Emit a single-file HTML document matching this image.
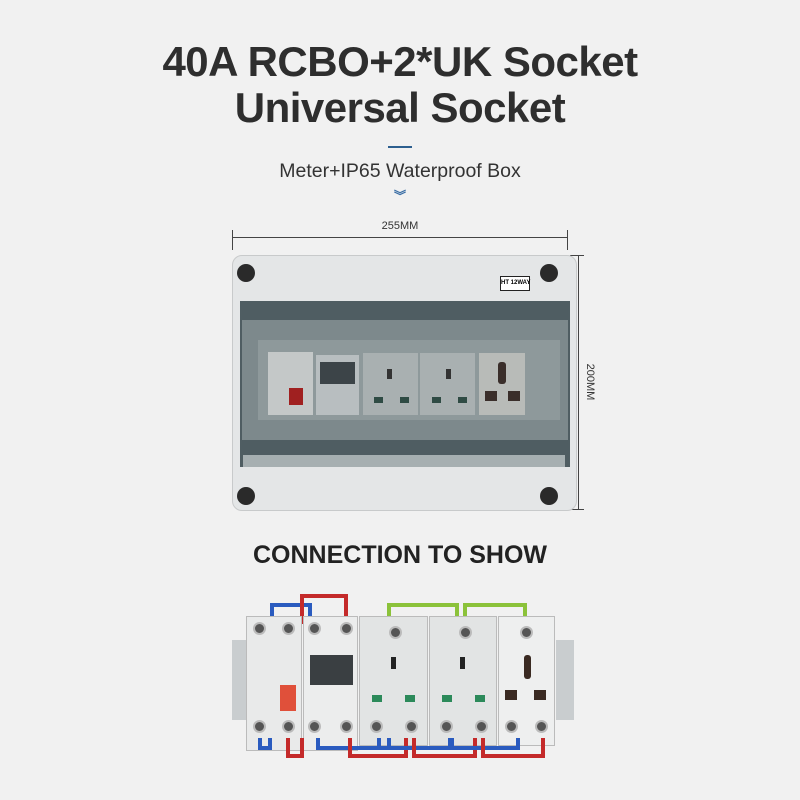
<!DOCTYPE html>
<html><head><style>
body{margin:0;width:800px;height:800px;background:#f1f1f1;position:relative;overflow:hidden;font-family:"Liberation Sans",sans-serif}
.a{position:absolute}
.t{left:0;width:800px;text-align:center;color:#2e2e2e;font-weight:bold}
.scr{border-radius:50%;background:#2a2a2a;width:18px;height:18px}
.s2{position:absolute;border-radius:50%;background:#555;width:9px;height:9px;border:2px solid #bbb}
</style></head><body>
<div class="a t" style="top:38px;font-size:42px;letter-spacing:-0.5px">40A RCBO+2*UK Socket</div>
<div class="a t" style="top:84px;font-size:42px;letter-spacing:-0.5px">Universal Socket</div>
<div class="a" style="left:388px;top:146px;width:24px;height:2px;background:#2d5f8f"></div>
<div class="a t" style="top:160px;font-size:19.5px;font-weight:normal;color:#333">Meter+IP65 Waterproof Box</div>
<div class="a t" style="top:192px;font-size:12px;color:#3a6ea5;line-height:8px">︾</div>
<!-- horizontal dimension -->
<div class="a" style="left:232px;top:237px;width:336px;height:1px;background:#444"></div>
<div class="a" style="left:232px;top:230px;width:1px;height:20px;background:#444"></div>
<div class="a" style="left:567px;top:230px;width:1px;height:20px;background:#444"></div>
<div class="a" style="left:232px;top:220px;width:336px;text-align:center;font-size:11px;color:#333">255MM</div>
<!-- vertical dimension -->
<div class="a" style="left:578px;top:255px;width:1px;height:255px;background:#444"></div>
<div class="a" style="left:570px;top:255px;width:14px;height:1px;background:#444"></div>
<div class="a" style="left:570px;top:509px;width:14px;height:1px;background:#444"></div>
<div class="a" style="left:555px;top:376px;width:70px;font-size:11px;color:#333;transform:rotate(90deg);text-align:center">200MM</div>
<!-- box -->
<div class="a" style="left:232px;top:255px;width:345px;height:256px;background:#e4e6e7;border-radius:10px;border:1px solid #c8cacb;box-sizing:border-box"></div>
<div class="scr a" style="left:237px;top:264px"></div>
<div class="scr a" style="left:540px;top:264px"></div>
<div class="scr a" style="left:237px;top:487px"></div>
<div class="scr a" style="left:540px;top:487px"></div>
<div class="a" style="left:500px;top:276px;width:28px;height:13px;border:1px solid #222;background:#fff;font-size:6px;line-height:13px;text-align:center;font-weight:bold;white-space:nowrap">HT 12WAY</div>
<div class="a" style="left:240px;top:301px;width:330px;height:166px;background:#4f5d62"></div>
<div class="a" style="left:242px;top:320px;width:326px;height:120px;background:#7d898c"></div>
<div class="a" style="left:258px;top:340px;width:302px;height:80px;background:#8e999b"></div>
<div class="a" style="left:243px;top:455px;width:322px;height:12px;background:#a6afb1"></div>
<!-- modules in box -->
<div class="a" style="left:268px;top:352px;width:45px;height:63px;background:#c4c8c8"></div>
<div class="a" style="left:289px;top:388px;width:14px;height:17px;background:#a02020"></div>
<div class="a" style="left:316px;top:355px;width:43px;height:60px;background:#b8bec0"></div>
<div class="a" style="left:320px;top:362px;width:35px;height:22px;background:#3c4448"></div>
<div class="a" style="left:363px;top:353px;width:55px;height:62px;background:#a9b0b1"></div>
<div class="a" style="left:420px;top:353px;width:55px;height:62px;background:#a9b0b1"></div>
<div class="a" style="left:479px;top:353px;width:46px;height:62px;background:#b8bbb8"></div>
<div class="a" style="left:498px;top:362px;width:8px;height:22px;background:#3a2e2a;border-radius:3px"></div>
<div class="a" style="left:485px;top:391px;width:12px;height:10px;background:#3a2e2a"></div>
<div class="a" style="left:508px;top:391px;width:12px;height:10px;background:#3a2e2a"></div>
<div class="a" style="left:387px;top:369px;width:5px;height:10px;background:#333"></div>
<div class="a" style="left:446px;top:369px;width:5px;height:10px;background:#333"></div>
<div class="a" style="left:374px;top:397px;width:9px;height:6px;background:#2f4b44"></div>
<div class="a" style="left:400px;top:397px;width:9px;height:6px;background:#2f4b44"></div>
<div class="a" style="left:432px;top:397px;width:9px;height:6px;background:#2f4b44"></div>
<div class="a" style="left:458px;top:397px;width:9px;height:6px;background:#2f4b44"></div>

<div class="a t" style="top:541px;font-size:25px;color:#222">CONNECTION TO SHOW</div>
<!-- bottom wiring -->
<div class="a" style="left:232px;top:640px;width:14px;height:80px;background:#c9cdcf"></div>
<div class="a" style="left:556px;top:640px;width:18px;height:80px;background:#c9cdcf"></div>
<div class="a" style="left:270px;top:603px;width:42px;height:18px;border:4px solid #2a5bbf;border-bottom:none;box-sizing:border-box"></div>
<div class="a" style="left:300px;top:594px;width:48px;height:30px;border:4px solid #c42a2a;border-bottom:none;box-sizing:border-box"></div>
<div class="a" style="left:387px;top:603px;width:72px;height:14px;border:4px solid #8bc23a;border-bottom:none;box-sizing:border-box"></div>
<div class="a" style="left:463px;top:603px;width:64px;height:14px;border:4px solid #8bc23a;border-bottom:none;box-sizing:border-box"></div>
<div class="a" style="left:246px;top:616px;width:56px;height:135px;background:#e9eaea;border:1px solid #bbb;box-sizing:border-box"></div>
<div class="a" style="left:303px;top:616px;width:55px;height:135px;background:#eceded;border:1px solid #bbb;box-sizing:border-box"></div>
<div class="a" style="left:359px;top:616px;width:69px;height:130px;background:#e2e4e4;border:1px solid #bbb;box-sizing:border-box"></div>
<div class="a" style="left:429px;top:616px;width:68px;height:130px;background:#e2e4e4;border:1px solid #bbb;box-sizing:border-box"></div>
<div class="a" style="left:498px;top:616px;width:57px;height:130px;background:#eeefef;border:1px solid #bbb;box-sizing:border-box"></div>
<div class="s2" style="left:253px;top:622px"></div><div class="s2" style="left:282px;top:622px"></div>
<div class="s2" style="left:308px;top:622px"></div><div class="s2" style="left:340px;top:622px"></div>
<div class="s2" style="left:389px;top:626px"></div><div class="s2" style="left:459px;top:626px"></div>
<div class="s2" style="left:520px;top:626px"></div>
<div class="s2" style="left:253px;top:720px"></div><div class="s2" style="left:282px;top:720px"></div>
<div class="s2" style="left:308px;top:720px"></div><div class="s2" style="left:340px;top:720px"></div>
<div class="s2" style="left:370px;top:720px"></div><div class="s2" style="left:405px;top:720px"></div>
<div class="s2" style="left:440px;top:720px"></div><div class="s2" style="left:475px;top:720px"></div>
<div class="s2" style="left:505px;top:720px"></div><div class="s2" style="left:535px;top:720px"></div>
<div class="a" style="left:280px;top:685px;width:16px;height:26px;background:#e0503a"></div>
<div class="a" style="left:310px;top:655px;width:43px;height:30px;background:#3a3f42"></div>
<div class="a" style="left:391px;top:657px;width:5px;height:12px;background:#222"></div>
<div class="a" style="left:460px;top:657px;width:5px;height:12px;background:#222"></div>
<div class="a" style="left:524px;top:655px;width:7px;height:24px;background:#3a2a22;border-radius:3px"></div>
<div class="a" style="left:505px;top:690px;width:12px;height:10px;background:#3a2a22"></div>
<div class="a" style="left:534px;top:690px;width:12px;height:10px;background:#3a2a22"></div>
<div class="a" style="left:372px;top:695px;width:10px;height:7px;background:#2c8a5a"></div>
<div class="a" style="left:405px;top:695px;width:10px;height:7px;background:#2c8a5a"></div>
<div class="a" style="left:442px;top:695px;width:10px;height:7px;background:#2c8a5a"></div>
<div class="a" style="left:475px;top:695px;width:10px;height:7px;background:#2c8a5a"></div>
<div class="a" style="left:258px;top:738px;width:14px;height:12px;border:4px solid #2a5bbf;border-top:none;box-sizing:border-box"></div>
<div class="a" style="left:286px;top:738px;width:18px;height:20px;border:4px solid #c42a2a;border-top:none;box-sizing:border-box"></div>
<div class="a" style="left:316px;top:738px;width:75px;height:12px;border:4px solid #2a5bbf;border-top:none;box-sizing:border-box"></div>
<div class="a" style="left:348px;top:738px;width:60px;height:20px;border:4px solid #c42a2a;border-top:none;box-sizing:border-box"></div>
<div class="a" style="left:377px;top:738px;width:75px;height:12px;border:4px solid #2a5bbf;border-top:none;box-sizing:border-box"></div>
<div class="a" style="left:412px;top:738px;width:65px;height:20px;border:4px solid #c42a2a;border-top:none;box-sizing:border-box"></div>
<div class="a" style="left:450px;top:738px;width:70px;height:12px;border:4px solid #2a5bbf;border-top:none;box-sizing:border-box"></div>
<div class="a" style="left:481px;top:738px;width:64px;height:20px;border:4px solid #c42a2a;border-top:none;box-sizing:border-box"></div>
</body></html>
